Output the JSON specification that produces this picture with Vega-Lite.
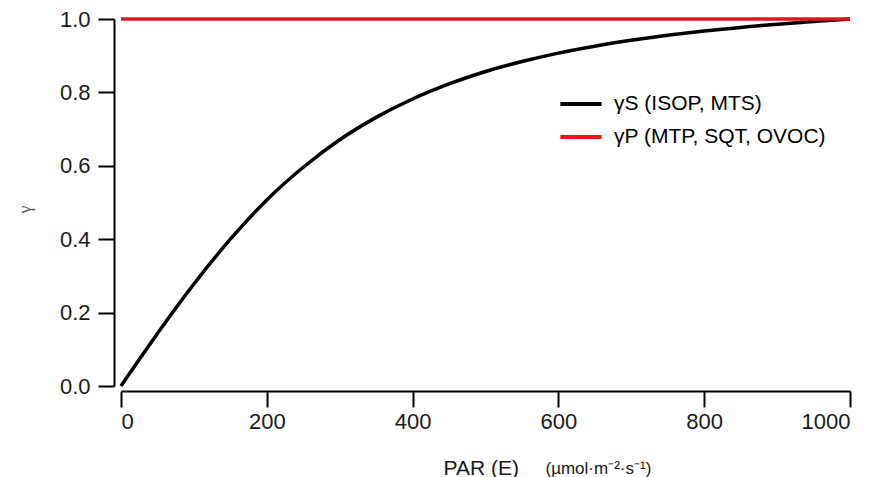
{
  "$schema": "https://vega.github.io/schema/vega-lite/v6.json",
  "autosize": {"type": "none"},
  "padding": {"left": 121, "top": 19, "right": 28, "bottom": 91},
  "width": 729,
  "height": 367,
  "background": "white",
  "config": {
    "view": {"stroke": null},
    "axis": {
      "grid": false,
      "domainColor": "#000000",
      "domainWidth": 2,
      "tickColor": "#000000",
      "tickWidth": 2,
      "tickSize": 16,
      "labelFont": "Liberation Sans",
      "labelFontSize": 22,
      "labelColor": "#1a1a1a",
      "titleFont": "Liberation Sans",
      "titleFontWeight": "normal",
      "titleColor": "#1a1a1a"
    }
  },
  "data": {
    "values": [
      {"par": 0, "g": 0.0, "s": "γS (ISOP, MTS)"},
      {"par": 25, "g": 0.072, "s": "γS (ISOP, MTS)"},
      {"par": 50, "g": 0.143, "s": "γS (ISOP, MTS)"},
      {"par": 75, "g": 0.212, "s": "γS (ISOP, MTS)"},
      {"par": 100, "g": 0.278, "s": "γS (ISOP, MTS)"},
      {"par": 150, "g": 0.400, "s": "γS (ISOP, MTS)"},
      {"par": 200, "g": 0.507, "s": "γS (ISOP, MTS)"},
      {"par": 250, "g": 0.596, "s": "γS (ISOP, MTS)"},
      {"par": 300, "g": 0.671, "s": "γS (ISOP, MTS)"},
      {"par": 350, "g": 0.732, "s": "γS (ISOP, MTS)"},
      {"par": 400, "g": 0.782, "s": "γS (ISOP, MTS)"},
      {"par": 450, "g": 0.823, "s": "γS (ISOP, MTS)"},
      {"par": 500, "g": 0.857, "s": "γS (ISOP, MTS)"},
      {"par": 550, "g": 0.884, "s": "γS (ISOP, MTS)"},
      {"par": 600, "g": 0.907, "s": "γS (ISOP, MTS)"},
      {"par": 650, "g": 0.926, "s": "γS (ISOP, MTS)"},
      {"par": 700, "g": 0.942, "s": "γS (ISOP, MTS)"},
      {"par": 750, "g": 0.956, "s": "γS (ISOP, MTS)"},
      {"par": 800, "g": 0.967, "s": "γS (ISOP, MTS)"},
      {"par": 850, "g": 0.977, "s": "γS (ISOP, MTS)"},
      {"par": 900, "g": 0.986, "s": "γS (ISOP, MTS)"},
      {"par": 950, "g": 0.993, "s": "γS (ISOP, MTS)"},
      {"par": 1000, "g": 1.0, "s": "γS (ISOP, MTS)"},
      {"par": 0, "g": 1.0, "s": "γP (MTP, SQT, OVOC)"},
      {"par": 1000, "g": 1.0, "s": "γP (MTP, SQT, OVOC)"}
    ]
  },
  "layer": [
    {
      "mark": {"type": "line", "strokeWidth": 3.5, "interpolate": "monotone", "clip": false},
      "encoding": {
        "x": {
          "field": "par", "type": "quantitative",
          "scale": {"domain": [0, 1000], "nice": false},
          "axis": {
            "values": [0, 200, 400, 600, 800, 1000],
            "format": "d",
            "offset": 5,
            "labelPadding": 4,
            "title": "PAR (E)",
            "titleFontSize": 21,
            "titleAnchor": "start",
            "titleAlign": "left",
            "titleBaseline": "alphabetic",
            "titleX": 322,
            "titleY": 83
          }
        },
        "y": {
          "field": "g", "type": "quantitative",
          "scale": {"domain": [0, 1], "nice": false},
          "axis": {
            "values": [0, 0.2, 0.4, 0.6, 0.8, 1.0],
            "format": ".1f",
            "offset": 7,
            "labelPadding": 8,
            "title": "γ",
            "titleFont": "Liberation Serif",
            "titleFontSize": 18,
            "titleColor": "#555555",
            "titleX": -80,
            "titleY": 190
          }
        },
        "color": {
          "field": "s", "type": "nominal",
          "scale": {"domain": ["γS (ISOP, MTS)", "γP (MTP, SQT, OVOC)"], "range": ["#000000", "#e8141c"]},
          "legend": {
            "title": null,
            "orient": "none",
            "legendX": 437,
            "legendY": 62,
            "symbolType": "stroke",
            "symbolStrokeWidth": 4,
            "symbolSize": 1700,
            "labelFont": "Liberation Sans",
            "labelFontSize": 21,
            "labelColor": "#000000",
            "labelLimit": 0,
            "labelOffset": 10,
            "rowPadding": -30
          }
        }
      }
    },
    {
      "mark": {"type": "point", "opacity": 0},
      "encoding": {
        "x": {
          "field": "par", "type": "quantitative",
          "axis": {
            "orient": "top",
            "domain": false,
            "ticks": false,
            "labels": false,
            "title": "(µmol·m⁻²·s⁻¹)",
            "titleFontSize": 17,
            "titleAnchor": "start",
            "titleAlign": "left",
            "titleBaseline": "alphabetic",
            "titleX": 424,
            "titleY": 454
          }
        },
        "y": {"field": "g", "type": "quantitative"}
      }
    }
  ],
  "resolve": {"axis": {"x": "independent"}}
}
